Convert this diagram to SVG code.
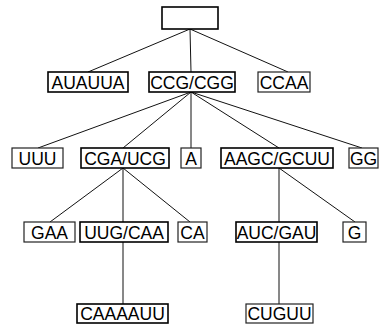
<svg xmlns="http://www.w3.org/2000/svg" width="385" height="328" viewBox="0 0 385 328">
<style>
.b{fill:#fff;stroke:#000;stroke-width:1.6}
.t{fill:#fff;stroke:#222;stroke-width:1.2}
text{font-family:"Liberation Sans",Arial,sans-serif;font-size:17.5px;fill:#000;text-anchor:middle}
#edges line{stroke:#111;stroke-width:1}
</style>
<rect width="385" height="328" fill="#fff"/>
<g id="edges">
<line x1="190" y1="29" x2="88" y2="72"/>
<line x1="190" y1="29" x2="191" y2="72"/>
<line x1="190" y1="29" x2="288" y2="72"/>
<line x1="191" y1="92" x2="38" y2="148"/>
<line x1="191" y1="92" x2="123" y2="148"/>
<line x1="191" y1="92" x2="191" y2="148"/>
<line x1="191" y1="92" x2="279" y2="148"/>
<line x1="191" y1="92" x2="362" y2="148"/>
<line x1="123" y1="168" x2="50" y2="222"/>
<line x1="123" y1="168" x2="123" y2="304"/>
<line x1="123" y1="168" x2="190" y2="222"/>
<line x1="279" y1="168" x2="279" y2="222"/>
<line x1="279" y1="168" x2="355" y2="222"/>
<line x1="279" y1="242" x2="279" y2="304"/>
</g>
<g id="root"><rect class="b" x="162" y="7" width="56" height="22"/></g>
<g id="n-auauua"><rect class="b" x="48" y="72" width="80" height="20"/><text x="88" y="89">AUAUUA</text></g>
<g id="n-ccg"><rect class="b" x="149" y="72" width="86" height="20"/><text x="192" y="89">CCG/CGG</text></g>
<g id="n-ccaa"><rect class="t" x="258" y="72" width="52" height="20"/><text x="284" y="89">CCAA</text></g>
<g id="n-uuu"><rect class="t" x="12" y="148" width="51" height="20"/><text x="37.5" y="164.5">UUU</text></g>
<g id="n-cga"><rect class="b" x="81" y="148" width="88" height="20"/><text x="125" y="164.5">CGA/UCG</text></g>
<g id="n-a"><rect class="t" x="181" y="148" width="20" height="20"/><text x="191" y="164.5">A</text></g>
<g id="n-aagc"><rect class="b" x="221" y="148" width="112" height="20"/><text x="277" y="164.5">AAGC/GCUU</text></g>
<g id="n-gg"><rect class="t" x="349" y="148" width="29" height="20"/><text x="363.5" y="164.5">GG</text></g>
<g id="n-gaa"><rect class="t" x="24" y="222" width="51" height="20"/><text x="49.5" y="238.5">GAA</text></g>
<g id="n-uug"><rect class="b" x="80" y="222" width="88" height="20"/><text x="124" y="238.5">UUG/CAA</text></g>
<g id="n-ca"><rect class="t" x="178" y="222" width="29" height="20"/><text x="192.5" y="238.5">CA</text></g>
<g id="n-auc"><rect class="b" x="236" y="222" width="81" height="20"/><text x="276.5" y="238.5">AUC/GAU</text></g>
<g id="n-g"><rect class="t" x="343" y="222" width="23" height="20"/><text x="354.5" y="238.5">G</text></g>
<g id="n-caaaauu"><rect class="b" x="77" y="304" width="91" height="19"/><text x="122.5" y="320">CAAAAUU</text></g>
<g id="n-cuguu"><rect class="t" x="246" y="304" width="67" height="19"/><text x="279.5" y="319.5">CUGUU</text></g>
</svg>
